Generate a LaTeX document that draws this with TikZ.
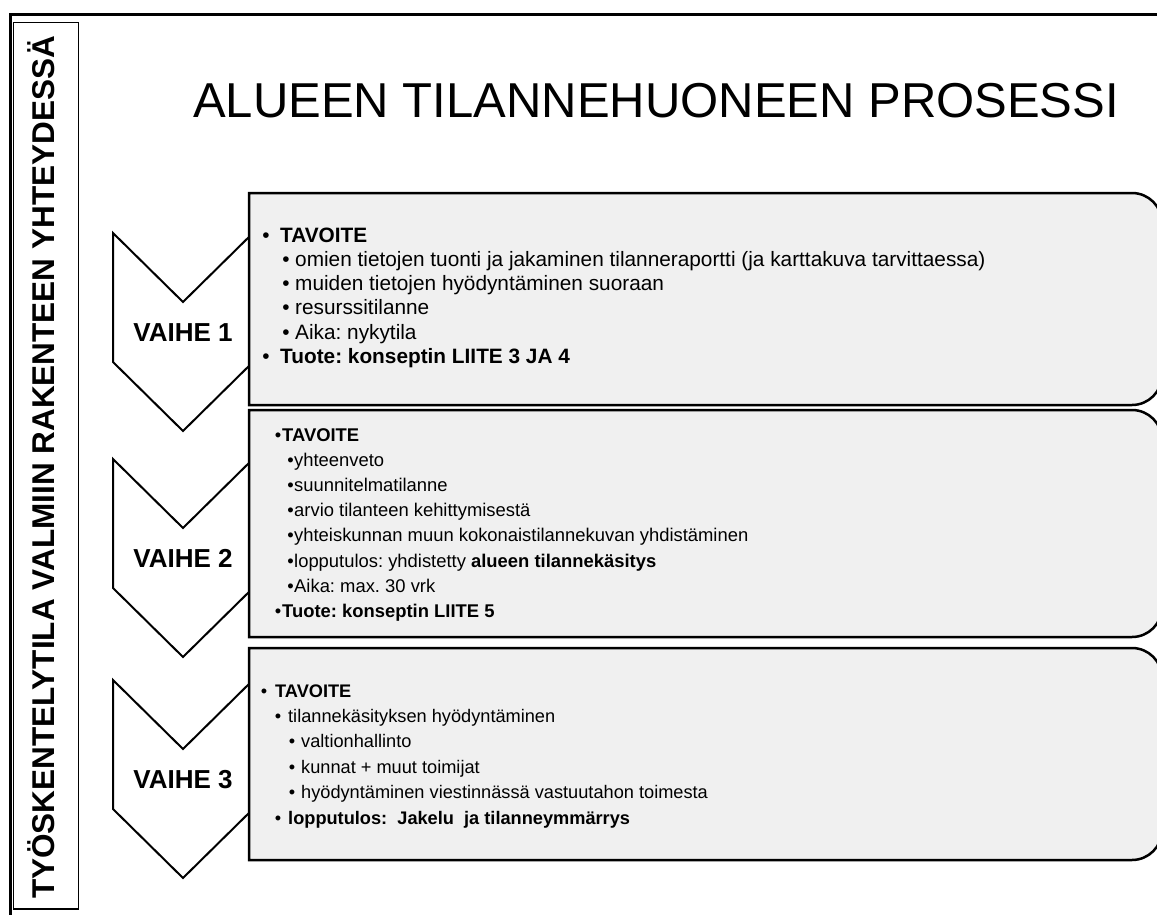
\documentclass[tikz,border=0pt]{standalone}
\usepackage{fontspec}
\setmainfont{Liberation Sans}
\usetikzlibrary{calc}
\definecolor{panel}{HTML}{F0F0F0}
\frenchspacing
% font size in pt with matching leading
\newcommand\setfs[1]{\fontsize{#1}{#1}\selectfont}
% bullet hanging to the left of the item text, #1 = gap in pt
\newcommand\bmark[1]{\makebox[0pt][r]{\textbullet\hspace{#1pt}}}
% panel with square left corners and rounded right corners around a holder node
\newcommand\panelpath[1]{%
  \path[panelline] (#1.south west) -- (#1.north west)
    -- ([xshift=-30pt]#1.north east)
    .. controls ([xshift=-13.43pt]#1.north east) and ([yshift=-13.43pt]#1.north east) .. ([yshift=-30pt]#1.north east)
    -- ([yshift=30pt]#1.south east)
    .. controls ([yshift=13.43pt]#1.south east) and ([xshift=-13.43pt]#1.south east) .. ([xshift=-30pt]#1.south east)
    -- cycle;}
\begin{document}
\begin{tikzpicture}[x=1pt,y=-1pt,
  frame/.style={line width=3pt, line cap=rect},
  sidebox/.style={draw, line width=1.5pt, fill=white, inner sep=0pt},
  chev/.style={draw, line width=2pt, fill=white, line join=miter},
  panelline/.style={draw, line width=2.5pt, fill=panel},
  holder/.style={inner sep=0pt, outer sep=0pt, minimum width=913pt, anchor=north west},
  txt/.style={anchor=base west, inner sep=0pt, text=black},
  bigA/.style={txt, font=\setfs{20.8}},
  smallA/.style={txt, font=\setfs{18.4}},
  smallB/.style={txt, font=\setfs{18.2}},
  stage/.style={anchor=base, inner sep=0pt, font=\setfs{26}\bfseries},
]
\useasboundingbox (0,0) rectangle (1157,915);
\clip (0,0) rectangle (1157,915);

% outer frame
\draw[frame] (10,916) -- (10,15) -- (1158,15);

% side banner
\node[sidebox, minimum width=65pt, minimum height=886pt, anchor=north west] (side) at (12.5,22) {};
\node[rotate=90, anchor=base, inner sep=0pt, font=\setfs{31.5}\bfseries] (sidetext) at (54,467.5)
  {TYÖSKENTELYTILA VALMIIN RAKENTEEN YHTEYDESSÄ};

% title
\node[txt, font=\setfs{49}] (title) at (193,118) {ALUEEN TILANNEHUONEEN PROSESSI};

% stage chevrons
\path[chev] (113,233) -- (183,302) -- (253,233) -- (253,362) -- (183,431) -- (113,362) -- cycle;
\path[chev] (113,459) -- (183,528) -- (253,459) -- (253,588) -- (183,657) -- (113,588) -- cycle;
\path[chev] (113,680) -- (183,749) -- (253,680) -- (253,809) -- (183,878) -- (113,809) -- cycle;

% panels
\node[holder, minimum height=212pt] (p1) at (249,193) {};
\node[holder, minimum height=227pt] (p2) at (249,410) {};
\node[holder, minimum height=212pt] (p3) at (249,648) {};
\panelpath{p1}
\panelpath{p2}
\panelpath{p3}

% stage labels
\node[stage] (v1) at (183,341.3) {VAIHE 1};
\node[stage] (v2) at (183,567.3) {VAIHE 2};
\node[stage] (v3) at (183,788.3) {VAIHE 3};

% stage 1 contents
\node[bigA] (b1a) at (280,242) {\bmark{10.6}\textbf{TAVOITE}};
\node[bigA] (b1b) at (295,266.3) {\bmark{5.6}omien tietojen tuonti ja jakaminen tilanneraportti (ja karttakuva tarvittaessa)};
\node[bigA] (b1c) at (295,290.6) {\bmark{5.6}muiden tietojen hyödyntäminen suoraan};
\node[bigA] (b1d) at (295,314.9) {\bmark{5.6}resurssitilanne};
\node[bigA] (b1e) at (295,339.2) {\bmark{5.6}Aika: nykytila};
\node[bigA] (b1f) at (280,363.5) {\bmark{10.6}\textbf{Tuote: konseptin LIITE 3 JA 4}};

% stage 2 contents
\node[smallA] (b2a) at (282,441) {\bmark{1}\textbf{TAVOITE}};
\node[smallA] (b2b) at (294,466.2) {\bmark{0.5}yhteenveto};
\node[smallA] (b2c) at (294,491.4) {\bmark{0.5}suunnitelmatilanne};
\node[smallA] (b2d) at (294,516.6) {\bmark{0.5}arvio tilanteen kehittymisestä};
\node[smallA] (b2e) at (294,541.8) {\bmark{0.5}yhteiskunnan muun kokonaistilannekuvan yhdistäminen};
\node[smallA] (b2f) at (294,567) {\bmark{0.5}lopputulos: yhdistetty \textbf{alueen tilannekäsitys}};
\node[smallA] (b2g) at (294,592.2) {\bmark{0.5}Aika: max. 30 vrk};
\node[smallA] (b2h) at (282,617.4) {\bmark{1}\textbf{Tuote: konseptin LIITE 5}};

% stage 3 contents
\node[smallB] (b3a) at (275,697) {\bmark{8}\textbf{TAVOITE}};
\node[smallB] (b3b) at (288,722.4) {\bmark{7}tilannekäsityksen hyödyntäminen};
\node[smallB] (b3c) at (301,747.8) {\bmark{6}valtionhallinto};
\node[smallB] (b3d) at (301,773.2) {\bmark{6}kunnat + muut toimijat};
\node[smallB] (b3e) at (301,798.6) {\bmark{6}hyödyntäminen viestinnässä vastuutahon toimesta};
\node[smallB] (b3f) at (288,824) {\bmark{7}\textbf{lopputulos:\ \ Jakelu\ \ ja tilanneymmärrys}};
\end{tikzpicture}
\end{document}
